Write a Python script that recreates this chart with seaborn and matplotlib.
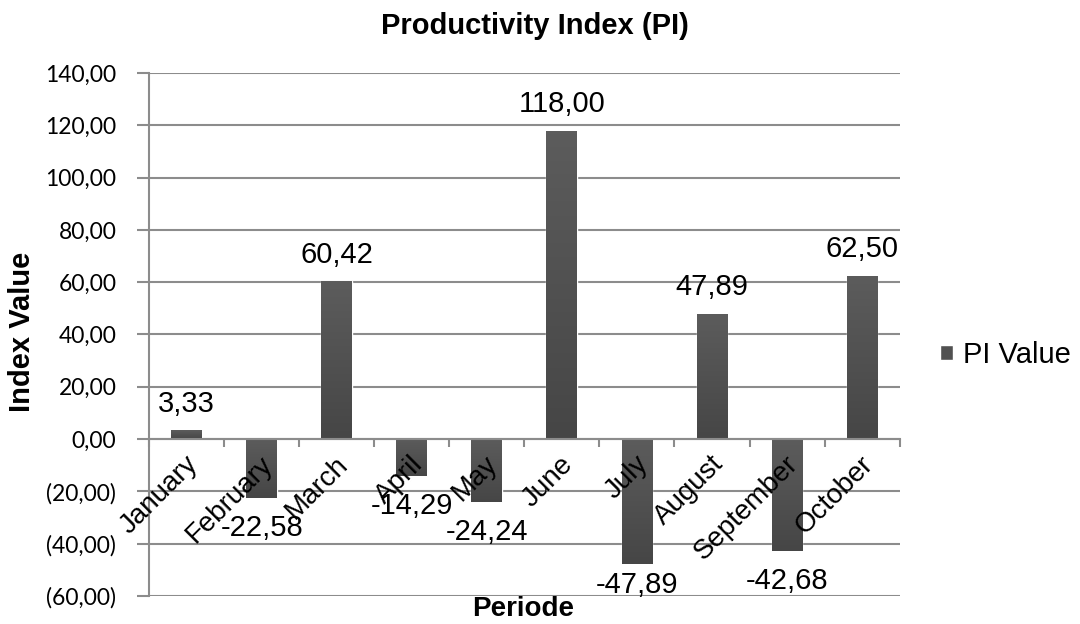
import matplotlib
matplotlib.use("Agg")
import matplotlib.pyplot as plt
import matplotlib.transforms as mtransforms
from matplotlib.colors import LinearSegmentedColormap
import numpy as np
import seaborn as sns
import pandas as pd

months = ["January", "February", "March", "April", "May",
          "June", "July", "August", "September", "October"]
pi_values = [3.33, -22.58, 60.42, -14.29, -24.24,
             118.00, -47.89, 47.89, -42.68, 62.50]
y_ticks = [-60, -40, -20, 0, 20, 40, 60, 80, 100, 120, 140]
series_name = "PI Value"

sns.set_theme(style="white")
plt.rcParams["font.family"] = ["Liberation Sans", "DejaVu Sans"]
plt.rcParams["text.color"] = "black"
plt.rcParams["axes.labelcolor"] = "black"
plt.rcParams["xtick.color"] = "black"
plt.rcParams["ytick.color"] = "black"

df = pd.DataFrame({"Periode": months, "Index Value": pi_values})

fig = plt.figure(figsize=(10.8, 6.24), dpi=100)
ax = fig.add_axes([0.138, 0.045, 0.695, 0.838])

bar_color = "#515151"
sns.barplot(data=df, x="Periode", y="Index Value", color=bar_color,
            width=0.41, saturation=1, label=series_name, ax=ax, zorder=3)

ax.set_xlim(-0.5, len(months) - 0.5)
ax.set_ylim(-60, 140)

# soft vertical shading inside each bar
shade = LinearSegmentedColormap.from_list("shade", ["#5c5c5c", "#464646"])
grad = np.linspace(0, 1, 64).reshape(-1, 1)
for patch in ax.patches:
    x0, y0 = patch.get_x(), patch.get_y()
    w, h = patch.get_width(), patch.get_height()
    lo, hi = min(y0, y0 + h), max(y0, y0 + h)
    im = ax.imshow(grad, cmap=shade, aspect="auto", origin="upper",
                   extent=(x0, x0 + w, lo, hi), zorder=3.1,
                   interpolation="bilinear")
    im.set_clip_path(patch)
ax.set_xlim(-0.5, len(months) - 0.5)
ax.set_ylim(-60, 140)

grid_c = "#8c8c8c"


def fmt(v):
    s = f"{abs(v):.2f}".replace(".", ",")
    return f"({s})" if v < 0 else s


ax.set_yticks(y_ticks, labels=[fmt(v) for v in y_ticks])
ax.tick_params(axis="y", length=8.6, width=1.5, direction="out", left=True,
               color=grid_c, pad=15, labelsize=16.5, labelcolor="black",
               labelfontfamily="Lato")
ax.grid(axis="y", color=grid_c, linewidth=1.5)
ax.grid(axis="x", visible=False)
ax.yaxis.set_zorder(0.5)
ax.xaxis.set_zorder(5)

for side in ["top", "right"]:
    ax.spines[side].set_visible(False)
ax.spines["left"].set_color(grid_c)
ax.spines["left"].set_linewidth(1.5)
ax.spines["bottom"].set_position(("data", 0))
ax.spines["bottom"].set_color(grid_c)
ax.spines["bottom"].set_linewidth(1.5)
ax.spines["bottom"].set_zorder(4)

# category boundary tick marks on the zero line
ax.set_xticks([i - 0.5 for i in range(len(months) + 1)], minor=True)
ax.tick_params(axis="x", which="minor", bottom=True, length=6, width=1.5,
               color=grid_c, direction="out")
ax.tick_params(axis="x", which="major", bottom=False, length=0, pad=0)
ax.set_xticks(range(len(months)))
ax.set_xticklabels(months, rotation=45, ha="right", va="top",
                   rotation_mode="anchor", fontsize=20, color="black")
shift = mtransforms.ScaledTranslation(-2 / 100, -12 / 100, fig.dpi_scale_trans)
for lbl in ax.get_xticklabels():
    lbl.set_transform(lbl.get_transform() + shift)
ax.set_xlabel("")
ax.set_ylabel("")

# value labels; labels below negative bars stay inside the plot area
px_per_unit = (0.838 * 624) / 200.0
for i, v in enumerate(pi_values):
    txt = f"{v:.2f}".replace(".", ",")
    if v >= 0:
        ax.annotate(txt, (i, v), xytext=(0, 9), textcoords="offset points",
                    ha="center", va="bottom", fontsize=21, zorder=6,
                    color="black")
    else:
        y_lab = max(v - 16 / px_per_unit, -50.5)
        ax.annotate(txt, (i, y_lab), ha="center", va="top",
                    fontsize=21, zorder=6, color="black")

fig.text(523 / 1080, 1 - 616 / 624, "Periode", fontsize=20,
         fontweight="bold", ha="center", va="baseline", color="black")
fig.text(22 / 1080, 1 - 332 / 624, "Index Value", fontsize=21,
         fontweight="bold", ha="center", va="center", rotation=90,
         color="black")
fig.text(535 / 1080, 1 - 12 / 624, "Productivity Index (PI)", fontsize=21,
         fontweight="bold", ha="center", va="top", color="black")

leg = ax.legend(loc="center left", bbox_to_anchor=(940 / 1080, 1 - 355 / 624),
                bbox_transform=fig.transFigure, frameon=False, fontsize=21,
                handlelength=0.45, handleheight=0.45, handletextpad=0.34,
                borderpad=0, borderaxespad=0)
for t in leg.get_texts():
    t.set_color("black")

fig.savefig("out.png", dpi=100)
